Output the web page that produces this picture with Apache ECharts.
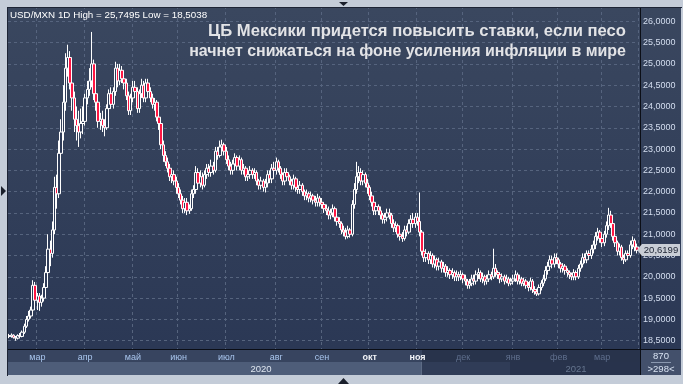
<!DOCTYPE html>
<html><head><meta charset="utf-8">
<script src="https://cdn.jsdelivr.net/npm/echarts@6/dist/echarts.min.js"></script>
<style>html,body{margin:0;padding:0;background:#c4ccd8;}#c{width:683px;height:384px;}</style>
</head><body><div id="c"></div><script>
// ---- DATA: daily candles [open, close, low, high], USD/MXN ----
const feb20 = [[18.62,18.60,18.56,18.66],[18.60,18.63,18.57,18.67],[18.63,18.58,18.55,18.65],[18.58,18.56,18.50,18.61],[18.56,18.62,18.53,18.65],[18.62,18.60,18.56,18.68],[18.60,18.70,18.58,18.74],[18.70,18.84,18.66,18.90],[18.84,19.00,18.80,19.08],[19.00,19.08,18.95,19.20],[19.08,19.22,19.02,19.30],[19.22,19.80,19.15,19.92],[19.80,19.45,19.38,19.88]];
const mar20 = [[19.45,19.55,19.22,19.62],[19.55,19.40,19.20,19.62],[19.40,19.50,19.30,19.58],[19.50,19.75,19.42,19.85],[19.75,20.10,19.68,20.25],[20.10,20.65,20.05,21.00],[20.65,20.55,20.25,20.85],[20.55,21.10,20.45,21.30],[21.10,22.10,21.00,22.35],[22.10,21.95,21.60,22.40],[21.95,22.90,21.85,23.20],[22.90,23.40,22.70,23.70],[23.40,24.10,23.20,24.50],[24.10,24.90,23.90,25.25],[24.90,25.15,24.70,25.45],[25.15,24.55,24.40,25.30],[24.55,24.20,23.90,24.70],[24.20,23.70,23.40,24.35],[23.70,23.55,23.20,24.00],[23.55,23.40,23.05,23.90],[23.40,23.60,23.25,23.95],[23.60,23.65,23.35,24.00]];
const apr20 = [[23.65,24.20,23.55,24.30],[24.20,24.40,24.05,24.60],[24.40,24.60,24.25,24.90],[24.60,25.00,24.45,25.75],[25.00,24.30,24.15,25.10],[24.30,24.10,23.90,24.45],[24.10,23.65,23.50,24.20],[23.65,23.70,23.45,23.85],[23.70,23.55,23.40,23.90],[23.55,23.50,23.30,23.70],[23.50,23.95,23.45,24.05],[23.95,24.30,23.85,24.40],[24.30,24.05,23.95,24.45],[24.05,24.35,23.95,24.45],[24.35,24.90,24.25,25.05],[24.90,24.60,24.45,25.00],[24.60,24.85,24.50,25.00],[24.85,24.65,24.55,24.95],[24.65,24.55,24.40,24.80],[24.55,24.25,24.15,24.65],[24.25,23.90,23.80,24.35],[23.90,24.20,23.80,24.30]];
const may20 = [[24.20,24.45,24.10,24.60],[24.45,24.35,24.20,24.60],[24.35,23.95,23.85,24.45],[23.95,24.30,23.85,24.40],[24.30,24.50,24.20,24.65],[24.50,24.20,24.10,24.60],[24.20,24.55,24.10,24.65],[24.55,24.35,24.25,24.65],[24.35,24.20,24.10,24.45],[24.20,24.05,23.95,24.30],[24.05,24.10,23.90,24.20],[24.10,23.75,23.65,24.15],[23.75,23.60,23.45,23.85],[23.60,23.10,23.00,23.70],[23.10,22.85,22.70,23.20],[22.85,22.70,22.60,22.95],[22.70,22.55,22.45,22.80],[22.55,22.35,22.25,22.65],[22.35,22.40,22.20,22.50],[22.40,22.25,22.15,22.50],[22.25,22.10,21.95,22.35]];
const jun20 = [[22.10,21.95,21.85,22.20],[21.95,21.80,21.70,22.05],[21.80,21.60,21.50,21.90],[21.60,21.75,21.50,21.85],[21.75,21.55,21.45,21.85],[21.55,21.60,21.48,21.70],[21.60,21.95,21.55,22.05],[21.95,22.05,21.85,22.15],[22.05,22.45,21.95,22.60],[22.45,22.20,22.10,22.55],[22.20,22.35,22.10,22.50],[22.35,22.15,22.05,22.45],[22.15,22.40,22.10,22.50],[22.40,22.55,22.30,22.65],[22.55,22.45,22.35,22.65],[22.45,22.60,22.35,22.75],[22.60,22.50,22.40,22.70],[22.50,22.95,22.45,23.05],[22.95,22.85,22.75,23.05],[22.85,23.05,22.80,23.20],[23.05,23.10,22.95,23.22],[23.10,22.95,22.85,23.15]];
const jul20 = [[22.95,22.75,22.65,23.05],[22.75,22.60,22.50,22.85],[22.60,22.50,22.40,22.70],[22.50,22.65,22.40,22.75],[22.65,22.80,22.55,22.90],[22.80,22.60,22.50,22.85],[22.60,22.75,22.50,22.85],[22.75,22.50,22.40,22.80],[22.50,22.55,22.40,22.65],[22.55,22.35,22.25,22.60],[22.35,22.40,22.25,22.50],[22.40,22.50,22.30,22.60],[22.50,22.40,22.30,22.55],[22.40,22.45,22.30,22.55],[22.45,22.25,22.15,22.50],[22.25,22.15,22.05,22.30],[22.15,22.25,22.05,22.35],[22.25,22.10,22.00,22.30],[22.10,22.20,21.98,22.30],[22.20,22.40,22.10,22.50],[22.40,22.30,22.20,22.50],[22.30,22.55,22.20,22.65],[22.55,22.50,22.40,22.70]];
const aug20 = [[22.50,22.70,22.40,22.80],[22.70,22.55,22.45,22.75],[22.55,22.40,22.30,22.60],[22.40,22.25,22.15,22.45],[22.25,22.45,22.15,22.55],[22.45,22.35,22.25,22.55],[22.35,22.25,22.15,22.40],[22.25,22.15,22.05,22.30],[22.15,22.30,22.05,22.40],[22.30,22.10,22.00,22.35],[22.10,22.05,21.95,22.20],[22.05,22.15,21.95,22.25],[22.15,22.00,21.90,22.20],[22.00,21.90,21.80,22.05],[21.90,21.95,21.80,22.05],[21.95,21.85,21.75,22.00],[21.85,21.90,21.75,22.00],[21.90,21.80,21.70,21.95],[21.80,21.75,21.65,21.90],[21.75,21.85,21.65,21.95],[21.85,21.75,21.65,21.90]];
const sep20 = [[21.75,21.70,21.60,21.85],[21.70,21.60,21.50,21.75],[21.60,21.55,21.45,21.70],[21.55,21.45,21.35,21.65],[21.45,21.50,21.35,21.60],[21.50,21.60,21.40,21.70],[21.60,21.40,21.30,21.65],[21.40,21.30,21.20,21.45],[21.30,21.25,21.15,21.40],[21.25,21.10,21.00,21.30],[21.10,21.05,20.95,21.20],[21.05,20.95,20.88,21.15],[20.95,21.10,20.90,21.20],[21.10,21.00,20.92,21.15],[21.00,21.70,20.95,21.80],[21.70,22.05,21.60,22.20],[22.05,22.35,21.95,22.70],[22.35,22.45,22.20,22.60],[22.45,22.25,22.15,22.55],[22.25,22.40,22.15,22.50],[22.40,22.20,22.10,22.45],[22.20,22.10,21.95,22.30]];
const oct20 = [[22.10,21.90,21.80,22.15],[21.90,21.75,21.65,22.00],[21.75,21.55,21.45,21.80],[21.55,21.65,21.45,21.75],[21.65,21.55,21.45,21.70],[21.55,21.45,21.35,21.65],[21.45,21.35,21.25,21.50],[21.35,21.40,21.25,21.50],[21.40,21.50,21.30,21.60],[21.50,21.45,21.35,21.60],[21.45,21.25,21.15,21.50],[21.25,21.15,21.05,21.35],[21.15,21.20,21.05,21.30],[21.20,21.00,20.92,21.25],[21.00,20.95,20.85,21.10],[20.95,20.90,20.82,21.05],[20.90,21.10,20.85,21.20],[21.10,21.05,20.95,21.20],[21.05,21.25,21.00,21.35],[21.25,21.35,21.15,21.45],[21.35,21.25,21.15,21.50],[21.25,21.40,21.15,21.50]];
const nov20 = [[21.40,21.30,21.20,21.50],[21.30,21.05,20.95,21.98],[21.05,20.60,20.50,21.10],[20.60,20.45,20.35,20.70],[20.45,20.55,20.35,20.65],[20.55,20.40,20.30,20.60],[20.40,20.50,20.30,20.60],[20.50,20.30,20.22,20.55],[20.30,20.40,20.20,20.50],[20.40,20.25,20.15,20.45],[20.25,20.35,20.15,20.45],[20.35,20.20,20.10,20.40],[20.20,20.25,20.10,20.35],[20.25,20.10,20.00,20.30],[20.10,20.15,20.00,20.25],[20.15,20.05,19.95,20.20],[20.05,20.10,19.95,20.20],[20.10,20.00,19.90,20.15],[20.00,20.05,19.90,20.15],[20.05,20.00,19.90,20.12],[20.00,20.05,19.92,20.15]];
const dec20 = [[20.05,19.95,19.85,20.10],[19.95,19.90,19.80,20.05],[19.90,19.80,19.72,19.95],[19.80,19.85,19.72,19.95],[19.85,19.95,19.78,20.05],[19.95,19.90,19.80,20.05],[19.90,20.05,19.82,20.15],[20.05,20.10,19.95,20.20],[20.10,19.95,19.88,20.15],[19.95,20.00,19.85,20.10],[20.00,19.90,19.80,20.05],[19.90,19.95,19.82,20.05],[19.95,20.05,19.88,20.15],[20.05,20.00,19.92,20.12],[20.00,20.20,19.95,20.66],[20.20,20.10,20.00,20.30],[20.10,20.05,19.95,20.15],[20.05,19.95,19.85,20.10],[19.95,20.00,19.88,20.08],[20.00,19.90,19.82,20.05],[19.90,19.95,19.85,20.05],[19.95,19.85,19.78,20.00],[19.85,19.90,19.80,19.98]];
const jan21 = [[19.90,19.95,19.82,20.05],[19.95,20.05,19.88,20.15],[20.05,19.90,19.82,20.10],[19.90,19.95,19.82,20.05],[19.95,19.85,19.78,20.00],[19.85,19.90,19.78,19.98],[19.90,19.80,19.72,19.95],[19.80,19.75,19.66,19.88],[19.75,19.90,19.68,19.98],[19.90,19.70,19.62,19.95],[19.70,19.65,19.58,19.78],[19.65,19.60,19.55,19.72],[19.60,19.75,19.56,19.82],[19.75,19.85,19.68,19.92],[19.85,19.95,19.78,20.05],[19.95,20.15,19.90,20.25],[20.15,20.25,20.05,20.35],[20.25,20.40,20.15,20.50],[20.40,20.30,20.20,20.50],[20.30,20.45,20.22,20.55],[20.45,20.40,20.30,20.55]];
const feb21 = [[20.40,20.30,20.20,20.45],[20.30,20.20,20.10,20.35],[20.20,20.25,20.10,20.32],[20.25,20.15,20.05,20.30],[20.15,20.10,20.00,20.20],[20.10,20.05,19.95,20.15],[20.05,20.00,19.92,20.10],[20.00,20.10,19.92,20.18],[20.10,20.00,19.92,20.15],[20.00,20.20,19.95,20.28],[20.20,20.30,20.12,20.38],[20.30,20.45,20.22,20.55],[20.45,20.40,20.32,20.55],[20.40,20.55,20.32,20.62],[20.55,20.50,20.42,20.62],[20.50,20.65,20.42,20.75],[20.65,20.75,20.55,20.85],[20.75,20.95,20.65,21.05],[20.95,21.05,20.85,21.15],[21.05,20.90,20.80,21.10]];
const mar21 = [[20.90,20.80,20.70,20.98],[20.80,21.00,20.72,21.08],[21.00,21.20,20.92,21.30],[21.20,21.45,21.10,21.62],[21.45,21.25,21.15,21.55],[21.25,20.95,20.85,21.30],[20.95,20.80,20.70,21.00],[20.80,20.60,20.50,20.85],[20.60,20.70,20.50,20.78],[20.70,20.45,20.38,20.75],[20.45,20.40,20.30,20.52],[20.40,20.55,20.35,20.62],[20.55,20.50,20.42,20.62],[20.50,20.75,20.45,20.85],[20.75,20.85,20.65,20.95],[20.85,20.70,20.60,20.90],[20.70,20.6199,20.55,20.78]];

const startDate = '2020-02-12';
const monthLabels = ['янв','фев','мар','апр','май','июн','июл','авг','сен','окт','ноя','дек'];
const infoText = 'USD/MXN 1D High = 25,7495 Low = 18,5038';
const titleLine1 = 'ЦБ Мексики придется повысить ставки, если песо';
const titleLine2 = 'начнет снижаться на фоне усиления инфляции в мире';
const footTop = '870';
const footBottom = '>298<';

// ---- build ----
const ohlc = [].concat(feb20, mar20, apr20, may20, jun20, jul20, aug20, sep20, oct20, nov20, dec20, jan21, feb21, mar21);
function tradingDays(start, n) {
  const out = []; const d = new Date(start + 'T00:00:00Z');
  while (out.length < n) { const w = d.getUTCDay(); if (w !== 0 && w !== 6) out.push(d.toISOString().slice(0, 10)); d.setUTCDate(d.getUTCDate() + 1); }
  return out;
}
const dates = tradingDays(startDate, ohlc.length);
const monthStart = dates.map((d, i) => i > 0 && d.slice(0, 7) !== dates[i - 1].slice(0, 7));
const yearMid = {};
(function () {
  const ranges = {};
  dates.forEach((d, i) => { const y = d.slice(0, 4); if (!ranges[y]) ranges[y] = [i, i]; ranges[y][1] = i; });
  Object.keys(ranges).forEach(y => { yearMid[Math.round((ranges[y][0] + ranges[y][1]) / 2)] = y; });
})();

const FONT = 'Liberation Sans';
const chart = echarts.init(document.getElementById('c'));
const fmt = v => v.toFixed(4).replace('.', ',');

chart.setOption({
  animation: false,
  backgroundColor: '#c4ccd8',
  textStyle: { fontFamily: FONT },
  grid: [
    { left: 8, right: 45, top: 0, height: 362 },
    { left: 8, right: 45, top: 349, height: 4 }
  ],
  xAxis: [
    { type: 'category', gridIndex: 0, position: 'bottom', data: dates, boundaryGap: true,
      axisLine: { show: false }, axisTick: { show: false }, axisLabel: { show: false },
      splitLine: { show: true, interval: i => monthStart[i], lineStyle: { color: '#56647e', type: [3, 3], width: 1 } } },
    { type: 'category', gridIndex: 1, position: 'bottom', data: dates, z: 20,
      axisLine: { show: false }, axisTick: { show: false }, splitLine: { show: false },
      axisLabel: { interval: i => monthStart[i], margin: 0, fontSize: 9, fontFamily: FONT,
        formatter: (v) => { const m = monthLabels[+v.slice(5, 7) - 1]; const ym = v.slice(0, 7);
          const k = ym < '2020-10' ? 'a' : (ym < '2020-12' ? 'b' : 'c'); return '{' + k + '|' + m + '}'; },
        rich: { a: { color: '#a9c6ee', fontSize: 9, fontFamily: FONT },
                b: { color: '#f2f4f8', fontSize: 9, fontWeight: 'bold', fontFamily: FONT },
                c: { color: '#5f6f8d', fontSize: 9, fontFamily: FONT } } } },
    { type: 'category', gridIndex: 1, position: 'bottom', data: dates, z: 20, offset: 11,
      axisLine: { show: false }, axisTick: { show: false }, splitLine: { show: false },
      axisLabel: { interval: i => yearMid[i] !== undefined, margin: 0, fontSize: 9, fontFamily: FONT,
        formatter: (v) => { const y = v.slice(0, 4); return '{' + (y === '2020' ? 'a' : 'c') + '|' + y + '}'; },
        rich: { a: { color: '#dfe6f0', fontSize: 9.5, fontFamily: FONT }, c: { color: '#66768f', fontSize: 9.5, fontFamily: FONT } } } }
  ],
  yAxis: [
    { type: 'value', gridIndex: 0, position: 'right', min: 18, max: 26.5, interval: 0.5,
      axisLine: { show: false }, axisTick: { show: false },
      axisLabel: { margin: 5, color: '#d4def0', fontSize: 9, fontFamily: FONT,
        formatter: v => (v < 18.49 || v > 26.01) ? '' : fmt(v) },
      splitLine: { show: true, lineStyle: { color: '#56647e', type: [3, 3], width: 1 } } },
    { type: 'value', gridIndex: 1, show: false }
  ],
  series: [{
    type: 'candlestick', xAxisIndex: 0, yAxisIndex: 0, data: ohlc, barWidth: 3,
    itemStyle: { color: '#2f3c58', color0: '#ff1744', borderColor: '#ffffff', borderColor0: '#ffffff', borderWidth: 1 }
  }]
});

const last = ohlc[ohlc.length - 1][1];
const ly = Math.round(chart.convertToPixel({ yAxisIndex: 0 }, last));
const FR = '#c4ccd8';
chart.setOption({
  graphic: [
    { type: 'rect', z: -10, shape: { x: 8, y: 8, width: 673, height: 341 },
      style: { fill: new echarts.graphic.LinearGradient(0, 0, 0, 1, [{ offset: 0, color: '#3a475f' }, { offset: 1, color: '#2b3855' }]) } },
    // frame
    { type: 'rect', z: 10, shape: { x: 0, y: 0, width: 683, height: 7 }, style: { fill: FR } },
    { type: 'rect', z: 10, shape: { x: 0, y: 375, width: 683, height: 9 }, style: { fill: FR } },
    { type: 'rect', z: 10, shape: { x: 681, y: 0, width: 2, height: 384 }, style: { fill: FR } },
    { type: 'rect', z: 10, shape: { x: 0, y: 0, width: 7, height: 384 }, style: { fill: FR } },
    { type: 'rect', z: 11, shape: { x: 7, y: 7, width: 675, height: 1 }, style: { fill: '#1d2435' } },
    { type: 'rect', z: 11, shape: { x: 7, y: 7, width: 1, height: 369 }, style: { fill: '#1d2435' } },
    // bottom band
    { type: 'rect', z: 10, shape: { x: 8, y: 349, width: 414, height: 13 }, style: { fill: '#37445f' } },
    { type: 'rect', z: 10, shape: { x: 8, y: 362, width: 414, height: 13 }, style: { fill: '#4e5d79' } },
    { type: 'rect', z: 10, shape: { x: 422, y: 349, width: 218, height: 13 }, style: { fill: '#28334b' } },
    { type: 'rect', z: 10, shape: { x: 422, y: 362, width: 88, height: 13 }, style: { fill: '#303c57' } },
    { type: 'rect', z: 10, shape: { x: 510, y: 362, width: 130, height: 13 }, style: { fill: '#28334c' } },
    { type: 'rect', z: 10, shape: { x: 421, y: 362, width: 1, height: 13 }, style: { fill: '#5d6b85' } },
    { type: 'rect', z: 10, shape: { x: 641, y: 349, width: 40, height: 26 }, style: { fill: '#43506b' } },
    // separators
    { type: 'rect', z: 12, shape: { x: 640, y: 8, width: 1, height: 367 }, style: { fill: '#0b0e16' } },
    { type: 'rect', z: 12, shape: { x: 8, y: 349, width: 673, height: 1 }, style: { fill: '#0b0e16' } },
    { type: 'rect', z: 12, shape: { x: 651, y: 362, width: 20, height: 1 }, style: { fill: '#8a98b0' } },
    // arrows
    { type: 'polygon', z: 12, shape: { points: [[339, 2], [348, 2], [343.5, 6]] }, style: { fill: '#1a1f2b' } },
    { type: 'polygon', z: 12, shape: { points: [[1, 186], [1, 196], [6, 191]] }, style: { fill: '#1a1f2b' } },
    { type: 'polygon', z: 12, shape: { points: [[338, 384], [349, 384], [343.5, 378]] }, style: { fill: '#1a1f2b' } },
    // texts
    { type: 'text', z: 30, x: 10, y: 15, style: { text: infoText, fill: '#ffffff', font: '9.8px "Liberation Sans"', textVerticalAlign: 'middle' } },
    { type: 'text', z: 30, x: 626, y: 31, scaleX: 0.978, style: { text: titleLine1, fill: '#e2e3e6', font: 'bold 17px "Liberation Sans"', textAlign: 'right', textVerticalAlign: 'middle' } },
    { type: 'text', z: 30, x: 626, y: 51, scaleX: 0.94, style: { text: titleLine2, fill: '#e2e3e6', font: 'bold 17px "Liberation Sans"', textAlign: 'right', textVerticalAlign: 'middle' } },
    { type: 'text', z: 30, x: 661, y: 356, style: { text: footTop, fill: '#d8e2f2', font: '9.5px "Liberation Sans"', textAlign: 'center', textVerticalAlign: 'middle' } },
    { type: 'text', z: 30, x: 661, y: 369, style: { text: footBottom, fill: '#d8e2f2', font: '9.5px "Liberation Sans"', textAlign: 'center', textVerticalAlign: 'middle' } },
    // last price tag
    { type: 'polygon', z: 31, shape: { points: [[637, ly], [642, ly - 6], [642, ly + 6]] }, style: { fill: '#c9ced6' } },
    { type: 'rect', z: 31, shape: { x: 642, y: ly - 6, width: 38, height: 12 }, style: { fill: '#c9ced6' } },
    { type: 'text', z: 32, x: 661, y: ly, style: { text: fmt(last), fill: '#1b2232', font: '9.5px "Liberation Sans"', textAlign: 'center', textVerticalAlign: 'middle' } }
  ]
});
</script></body></html>
